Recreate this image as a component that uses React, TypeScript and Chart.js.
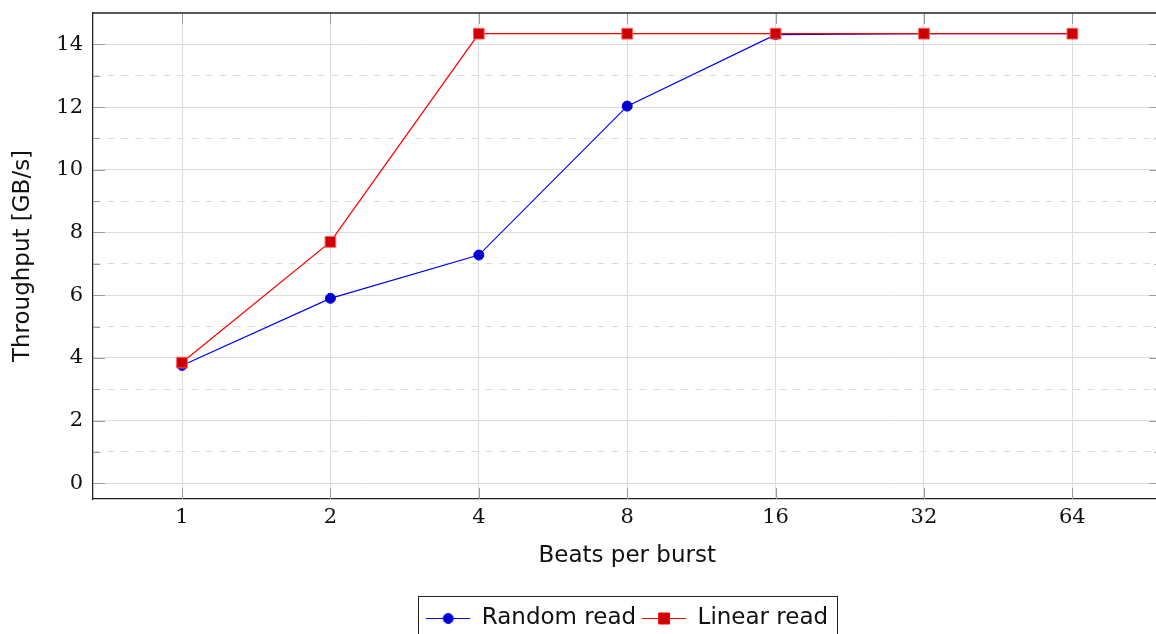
import React, { useEffect, useRef } from 'react';
import { Chart, registerables } from 'chart.js';

Chart.register(...registerables);

// ---- data ----
const xLabels = ['1', '2', '4', '8', '16', '32', '64'];
const randomRead = [3.76, 5.9, 7.28, 12.03, 14.31, 14.34, 14.34];
const linearRead = [3.85, 7.7, 14.34, 14.34, 14.34, 14.34, 14.34];
const yMajorTicks = [0, 2, 4, 6, 8, 10, 12, 14];
const yMinorTicks = [1, 3, 5, 7, 9, 11, 13];
const seriesNames = ['Random read', 'Linear read'];
const xTitle = 'Beats per burst';
const yTitle = 'Throughput [GB/s]';

const W = 1170;
const H = 640;
const SANS = '"DejaVu Sans", sans-serif';
const SERIF = '"DejaVu Serif", serif';

function makeSample(line: string, fill: string, shape: 'circle' | 'square') {
  const c = document.createElement('canvas');
  c.width = 44;
  c.height = 15;
  const g = c.getContext('2d')!;
  g.strokeStyle = line;
  g.lineWidth = 1;
  g.beginPath();
  g.moveTo(0, 7.5);
  g.lineTo(44, 7.5);
  g.stroke();
  g.fillStyle = fill;
  g.lineWidth = 1;
  g.beginPath();
  if (shape === 'circle') g.arc(22, 7.5, 5, 0, Math.PI * 2);
  else g.rect(16.5, 2, 11, 11);
  g.fill();
  g.stroke();
  return c;
}

const framePlugin = {
  id: 'frameTicks',
  beforeDatasetsDraw(chart: any) {
    const { ctx, chartArea: a, scales } = chart;
    const x = scales.x;
    const y = scales.y;
    const seg = (x1: number, y1: number, x2: number, y2: number) => {
      ctx.beginPath();
      ctx.moveTo(x1, y1);
      ctx.lineTo(x2, y2);
      ctx.stroke();
    };
    ctx.save();
    ctx.strokeStyle = '#9a9a9a';
    ctx.lineWidth = 1;
    yMajorTicks.forEach((v) => {
      const py = Math.round(y.getPixelForValue(v)) + 0.5;
      seg(a.left, py, a.left + 12, py);
      seg(a.right - 12, py, a.right, py);
    });
    yMinorTicks.forEach((v) => {
      const py = Math.round(y.getPixelForValue(v)) + 0.5;
      seg(a.left, py, a.left + 7, py);
      seg(a.right - 7, py, a.right, py);
    });
    xLabels.forEach((_, i) => {
      const px = Math.round(x.getPixelForValue(i)) + 0.5;
      seg(px, a.bottom, px, a.bottom - 11);
      seg(px, a.top, px, a.top + 11);
    });
    ctx.strokeStyle = '#222';
    ctx.lineWidth = 1.3;
    seg(a.left, a.top, a.right, a.top);
    seg(a.right, a.top, a.right, a.bottom);
    ctx.restore();
  },
  afterDraw(chart: any) {
    const lg = chart.legend;
    if (!lg || !lg.legendHitBoxes || !lg.legendHitBoxes.length) return;
    const hb = lg.legendHitBoxes;
    let l = Infinity, r = -Infinity, t = Infinity, b = -Infinity;
    hb.forEach((h: any) => {
      l = Math.min(l, h.left);
      r = Math.max(r, h.left + h.width);
      t = Math.min(t, h.top);
      b = Math.max(b, h.top + h.height);
    });
    const ctx = chart.ctx;
    ctx.save();
    ctx.strokeStyle = '#222';
    ctx.lineWidth = 1;
    ctx.strokeRect(Math.round(l - 8) + 0.5, Math.round(t - 11) + 0.5, Math.round(r - l + 17), Math.round(b - t + 22));
    ctx.restore();
  },
};

export default function App() {
  const ref = useRef<HTMLCanvasElement>(null);

  useEffect(() => {
    const canvas = ref.current;
    if (!canvas) return;
    const samples = [
      makeSample('#0000ff', '#0000cc', 'circle'),
      makeSample('#ff0000', '#cc0000', 'square'),
    ];
    const chart = new Chart(canvas, {
      type: 'line',
      data: {
        datasets: [
          {
            label: seriesNames[0],
            data: randomRead.map((v, i) => ({ x: i, y: v })),
            borderColor: '#0000ff',
            backgroundColor: '#0000cc',
            borderWidth: 1.2,
            pointStyle: 'circle',
            pointRadius: 5,
            pointBorderWidth: 1,
            pointBorderColor: '#0000ff',
            pointBackgroundColor: '#0000cc',
            order: 1,
          },
          {
            label: seriesNames[1],
            data: linearRead.map((v, i) => ({ x: i, y: v })),
            borderColor: '#ff0000',
            backgroundColor: '#cc0000',
            borderWidth: 1.3,
            pointStyle: 'rect',
            pointRadius: 7.6,
            pointBorderWidth: 1,
            pointBorderColor: '#ff6060',
            pointBackgroundColor: '#cc0000',
            order: 0,
          },
        ],
      },
      options: {
        animation: false,
        responsive: false,
        devicePixelRatio: 1,
        layout: { padding: { top: 13, left: 0, right: 2, bottom: 0 } },
        scales: {
          x: {
            type: 'linear',
            min: -0.6,
            max: 6.6,
            afterBuildTicks: (s: any) => {
              s.ticks = xLabels.map((_, i) => ({ value: i }));
            },
            afterFit: (s: any) => {
              s.height = 102;
              s.paddingLeft = 0;
              s.paddingRight = 0;
            },
            ticks: {
              callback: (v: any) => xLabels[v as number] ?? '',
              font: { family: SERIF, size: 21 },
              color: '#111',
              padding: 6,
              maxRotation: 0,
              autoSkip: false,
            },
            grid: { color: '#dcdcdc', lineWidth: 1, drawTicks: false },
            border: { color: '#222', width: 1.3 },
            title: {
              display: true,
              text: xTitle,
              font: { family: SANS, size: 23 },
              color: '#111',
              padding: { top: 0, bottom: 31 },
            },
          },
          y: {
            type: 'linear',
            min: -0.5,
            max: 15,
            afterBuildTicks: (s: any) => {
              s.ticks = [...yMajorTicks, ...yMinorTicks]
                .sort((a, b) => a - b)
                .map((v) => ({ value: v }));
            },
            afterFit: (s: any) => {
              s.width = 93;
              s.paddingTop = 0;
              s.paddingBottom = 0;
            },
            ticks: {
              callback: (v: any) => (yMajorTicks.includes(v as number) ? String(v) : ''),
              font: { family: SERIF, size: 21 },
              color: '#111',
              padding: 10,
              autoSkip: false,
            },
            grid: { color: '#dcdcdc', lineWidth: 1, drawTicks: false },
            border: {
              color: '#222',
              width: 1.3,
              dash: (ctx: any) =>
                ctx.tick && yMinorTicks.includes(ctx.tick.value) ? [7, 7] : [],
            },
            title: {
              display: true,
              text: yTitle,
              font: { family: SANS, size: 23 },
              color: '#111',
              padding: { top: 9, bottom: 0 },
            },
          },
        },
        plugins: {
          legend: {
            position: 'bottom',
            fullSize: false,
            labels: {
              usePointStyle: true,
              pointStyleWidth: 44,
              padding: 6,
              font: { family: SANS, size: 23 },
              color: '#111',
              generateLabels: (c: any) =>
                c.data.datasets.map((ds: any, i: number) => ({
                  text: ds.label,
                  pointStyle: samples[i],
                  fillStyle: 'transparent',
                  strokeStyle: 'transparent',
                  lineWidth: 0,
                  hidden: false,
                  datasetIndex: i,
                  fontColor: '#111',
                })),
            },
          },
          tooltip: { enabled: false },
        },
      },
      plugins: [framePlugin],
    } as any);
    return () => chart.destroy();
  }, []);

  return (
    <div
      style={{
        position: 'absolute',
        left: 0,
        top: 0,
        width: 1156,
        height: 634,
        overflow: 'hidden',
        background: '#fff',
      }}
    >
      <canvas ref={ref} width={W} height={H} style={{ width: W, height: H, display: 'block' }} />
    </div>
  );
}
